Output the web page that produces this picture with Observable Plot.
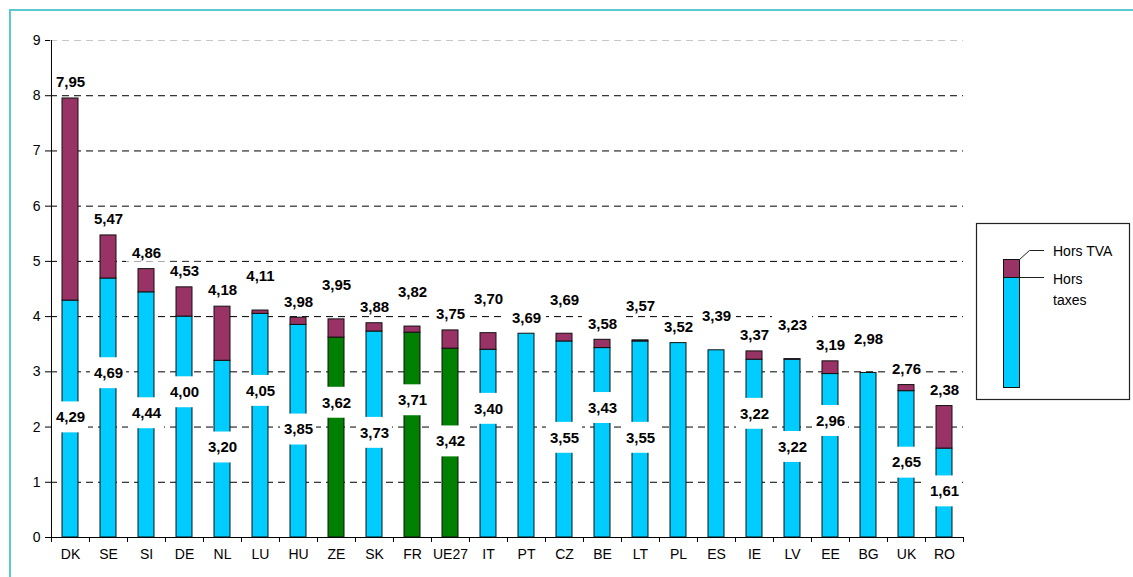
<!DOCTYPE html>
<html><head><meta charset="utf-8">
<script src="https://cdn.jsdelivr.net/npm/d3@7"></script>
<script src="https://cdn.jsdelivr.net/npm/@observablehq/plot@0.6"></script>
<style>
body{margin:0;background:#fff;font-family:"Liberation Sans",Arial,sans-serif;}
#wrap{position:relative;width:1133px;height:577px;overflow:hidden;background:#fff;}
#wrap svg{position:absolute;left:0;top:0;}
#frame{position:absolute;left:9px;top:9px;width:1300px;height:700px;border-left:2px solid #5cc8cf;border-top:2px solid #5cc8cf;pointer-events:none;}
</style></head><body><div id="wrap"></div>
<script>
// ---- data ----
const categories = ["DK","SE","SI","DE","NL","LU","HU","ZE","SK","FR","UE27","IT","PT","CZ","BE","LT","PL","ES","IE","LV","EE","BG","UK","RO"];
const horsTVA   = [7.95,5.47,4.86,4.53,4.18,4.11,3.98,3.95,3.88,3.82,3.75,3.70,3.69,3.69,3.58,3.57,3.52,3.39,3.37,3.23,3.19,2.98,2.76,2.38];
const horsTaxes = [4.29,4.69,4.44,4.00,3.20,4.05,3.85,3.62,3.73,3.71,3.42,3.40,3.69,3.55,3.43,3.55,3.52,3.39,3.22,3.22,2.96,2.98,2.65,1.61];
const highlighted = ["ZE","FR","UE27"];
const yTicks = [0,1,2,3,4,5,6,7,8,9];
const legendLabels = ["Hors TVA", "Hors taxes"];

// ---- layout / style ----
const W = 1133, H = 577, ML = 50, MR = 170, MT = 40, MB = 40;
const bw = (W - ML - MR) / categories.length;
const cyan = "#00ccff", maroon = "#993366", green = "#008000";
const fmt = v => v.toFixed(2).replace(".", ",");
const font = "'Liberation Sans', Arial, sans-serif";

const rows = categories.map((c, i) => ({c, i, total: horsTVA[i], base: horsTaxes[i]}));
// base labels: centred in the base segment, staggered to avoid neighbours
const labeled = rows.filter(d => d.base < d.total);
labeled.forEach((d, k) => {
  let y = d.base / 2 + 0.03;
  if (k % 2 === 1 && y + 0.6 <= d.base - 0.45) y += 0.6;
  d.labelY = y;
});
// total labels: raised a second tier when close to the previous (lower-tier) label
rows.forEach((d, i) => {
  const prev = rows[i - 1];
  d.high = !!prev && !prev.high && Math.abs(d.total - prev.total) < 0.3;
});
const lowRows = rows.filter(d => !d.high);
const highRows = rows.filter(d => d.high);
const tops = rows.filter(d => d.total > d.base);
const labelStyle = {x: "c", y: "total", text: d => fmt(d.total), fontSize: 15, fontWeight: "bold", fill: "#000"};
const boxStyle = {x: "c", y1: "total", y2: "total", fill: "#fff", insetTop: -9, insetBottom: -9, insetLeft: -1, insetRight: -1};

const chart = Plot.plot({
  width: W, height: H,
  marginLeft: ML, marginRight: MR, marginTop: MT, marginBottom: MB,
  style: {fontFamily: font, background: "transparent", color: "#000"},
  x: {domain: categories, padding: 0, label: null},
  y: {domain: [0, 9], label: null},
  marks: [
    Plot.ruleY([1,2,3,4,5,6,7,8], {stroke: "#000", strokeWidth: 1, strokeDasharray: "7,5"}),
    Plot.ruleY([9], {stroke: "#c8c8c8", strokeWidth: 1, strokeDasharray: "7,5"}),
    Plot.barY(rows, {x: "c", y1: 0, y2: "base", fill: d => highlighted.includes(d.c) ? green : cyan,
      stroke: "#111", strokeWidth: 1, insetLeft: 11, insetRight: 11}),
    Plot.barY(tops, {x: "c", y1: "base", y2: "total", fill: maroon,
      stroke: "#111", strokeWidth: 1, insetLeft: 11, insetRight: 11}),
    Plot.rect(labeled, {x: "c", y1: d => d.labelY - 0.28, y2: d => d.labelY + 0.28, fill: "#fff", insetLeft: 1, insetRight: 1}),
    Plot.text(labeled, {x: "c", y: "labelY", text: d => fmt(d.base), fontSize: 15, fontWeight: "bold", fill: "#000"}),
    Plot.rect(lowRows, {...boxStyle, dy: -16}),
    Plot.rect(highRows, {...boxStyle, dy: -34}),
    Plot.text(lowRows, {...labelStyle, dy: -16}),
    Plot.text(highRows, {...labelStyle, dy: -34}),
    Plot.ruleY([0], {stroke: "#000", strokeWidth: 1}),
    Plot.ruleX([categories[0]], {y1: 0, y2: 9, dx: -bw / 2, stroke: "#000"}),
    Plot.ruleX(categories, {y1: 0, y2: -0.09, dx: -bw / 2, stroke: "#000"}),
    Plot.ruleX([categories[categories.length - 1]], {y1: 0, y2: -0.09, dx: bw / 2, stroke: "#000"}),
    Plot.axisY({ticks: yTicks, tickSize: 5, tickPadding: 5, fontSize: 14, tickFormat: d => String(d)}),
    Plot.axisX({tickSize: 0, tickPadding: 12, fontSize: 14})
  ]
});

const wrap = document.getElementById("wrap");
wrap.appendChild(chart);
const frame = document.createElement("div"); frame.id = "frame"; wrap.appendChild(frame);

// Legend
const svg = d3.select(chart);
const lg = svg.append("g").attr("font-family", font).attr("font-size", 14).attr("text-anchor", "start").attr("fill", "#000");
lg.append("rect").attr("x", 976.5).attr("y", 223.5).attr("width", 153).attr("height", 176).attr("fill", "#fff").attr("stroke", "#222").attr("stroke-width", 1.2);
lg.append("rect").attr("x", 1003.5).attr("y", 277.5).attr("width", 16).attr("height", 110).attr("fill", cyan).attr("stroke", "#111");
lg.append("rect").attr("x", 1003.5).attr("y", 259.5).attr("width", 16).attr("height", 18).attr("fill", maroon).attr("stroke", "#111");
lg.append("path").attr("d", "M1019.5,259.5L1029.5,250.5L1044,250.5M1019.5,277.5L1044,277.5").attr("fill", "none").attr("stroke", "#222");
lg.append("text").attr("x", 1053).attr("y", 256).text(legendLabels[0]);
const t2 = lg.append("text").attr("x", 1053).attr("y", 284);
t2.append("tspan").attr("x", 1053).text(legendLabels[1].split(" ")[0]);
t2.append("tspan").attr("x", 1053).attr("dy", 21).text(legendLabels[1].split(" ")[1]);
</script></body></html>
